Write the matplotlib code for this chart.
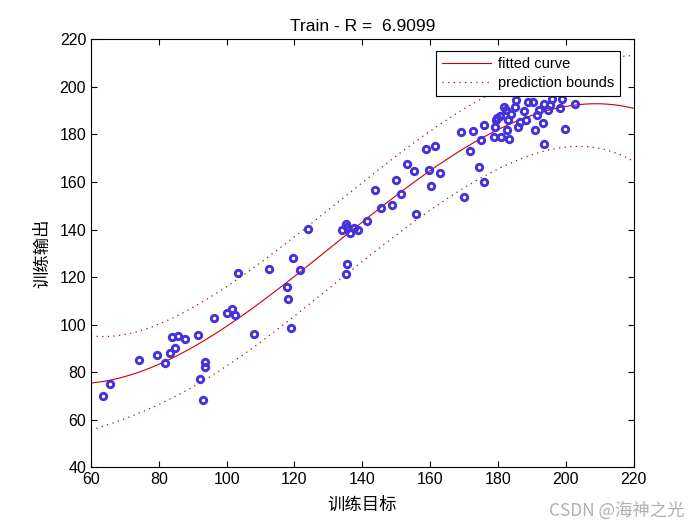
import numpy as np
import matplotlib
matplotlib.use("Agg")
import matplotlib.pyplot as plt

# training targets (x) and network outputs (y)
target = [63.6, 65.7, 74.2, 79.6, 81.8, 83.2, 84.0, 85.7, 84.9, 87.8,
          91.7, 92.2, 93.5, 93.7, 92.9, 96.2, 100.0, 101.6, 102.5, 103.4,
          108.1, 112.5, 117.7, 118.2, 119.1, 119.7, 121.7, 124.0, 134.1, 135.3,
          135.5, 136.3, 137.6, 138.7, 135.4, 135.3, 141.5, 143.9, 145.4, 148.9,
          149.9, 151.5, 153.3, 155.2, 155.8, 158.9, 159.8, 160.2, 161.5, 162.8,
          169.2, 170.0, 171.8, 172.7, 174.4, 175.0, 175.8, 176.0, 178.8, 179.1,
          179.3, 179.6, 180.5, 181.0, 181.7, 182.5, 182.8, 183.0, 183.2, 183.9,
          185.1, 185.3, 186.0, 186.4, 187.7, 188.4, 188.9, 190.5, 190.9, 191.4,
          192.1, 193.4, 193.5, 193.7, 194.9, 195.5, 196.0, 198.4, 198.9, 199.9,
          202.8]
output = [70.0, 74.9, 85.3, 87.2, 84.0, 88.1, 94.6, 95.1, 90.3, 93.9,
          95.7, 77.3, 84.3, 82.0, 68.3, 102.7, 105.0, 106.4, 104.0, 121.8,
          96.1, 123.5, 115.7, 110.9, 98.5, 128.0, 123.0, 140.1, 140.0, 142.4,
          141.2, 138.7, 140.7, 140.0, 125.6, 121.1, 143.5, 156.6, 149.0, 150.5,
          160.8, 155.0, 167.4, 164.7, 146.5, 173.7, 164.9, 158.4, 175.3, 163.9,
          181.2, 153.9, 173.2, 181.3, 166.1, 177.5, 160.2, 184.1, 178.9, 183.2,
          186.0, 187.1, 187.7, 178.9, 191.6, 190.2, 181.7, 186.2, 178.0, 188.5,
          191.6, 194.7, 183.2, 185.3, 189.8, 186.0, 193.7, 193.7, 181.7, 188.1,
          190.2, 184.8, 192.7, 176.1, 190.2, 192.3, 195.1, 191.3, 195.1, 182.5,
          192.7]

x = np.array(target)
y = np.array(output)

# cubic fit with 95% observation prediction bounds
X = np.vander(x, 4)
coef, *_ = np.linalg.lstsq(X, y, rcond=None)
resid = y - X @ coef
dof = len(x) - 4
s = np.sqrt(resid @ resid / dof)
XtXi = np.linalg.inv(X.T @ X)

xx = np.linspace(60, 220, 400)
XX = np.vander(xx, 4)
yy = XX @ coef
half = 1.985 * s * np.sqrt(1 + np.einsum('ij,jk,ik->i', XX, XtXi, XX))

fig = plt.figure(figsize=(7, 5.25), dpi=100)
ax = fig.add_axes([0.13, 0.11, 0.775, 0.815])

ax.plot(x, y, 'o', color='#4433dd', mfc='none', ms=4.6, mew=2.1, zorder=3)
h1, = ax.plot(xx, yy, '-', color='#cc0000', lw=0.8, label='fitted curve')
h2, = ax.plot(xx, yy + half, color='#aa1111', lw=0.9, dashes=(1, 3.5),
              label='prediction bounds')
ax.plot(xx, yy - half, color='#aa1111', lw=0.9, dashes=(1, 3.5))

ax.set_xlim(60, 220)
ax.set_ylim(40, 220)
ax.set_xticks(np.arange(60, 221, 20))
ax.set_yticks(np.arange(40, 221, 20))
ax.tick_params(direction='in', top=True, right=True, labelsize=11.5, length=4)
for sp in ax.spines.values():
    sp.set_linewidth(0.8)

cjk = ['Noto Sans CJK SC', 'DejaVu Sans']
ax.set_title('Train - R =  6.9099', fontsize=12.5, family='Liberation Sans', pad=6)
ax.set_xlabel('训练目标', fontsize=12.5, family=cjk, labelpad=6)
ax.set_ylabel('训练输出', fontsize=12.5, family=cjk, labelpad=6)
for lab in ax.get_xticklabels() + ax.get_yticklabels():
    lab.set_family('Liberation Sans')

leg = ax.legend(handles=[h1, h2], loc='upper right', bbox_to_anchor=(0.976, 0.972),
                borderaxespad=0, fancybox=False, edgecolor='black', framealpha=1,
                prop={'family': 'Liberation Sans', 'size': 10.5},
                handlelength=3.4, borderpad=0.4, labelspacing=0.35,
                handletextpad=0.5)
leg.get_frame().set_linewidth(0.8)

fig.text(0.978, 0.01, 'CSDN @海神之光', ha='right', va='bottom',
         fontsize=12.5, color='#b0b0b0', family=cjk)

fig.savefig('out.png', dpi=100)
